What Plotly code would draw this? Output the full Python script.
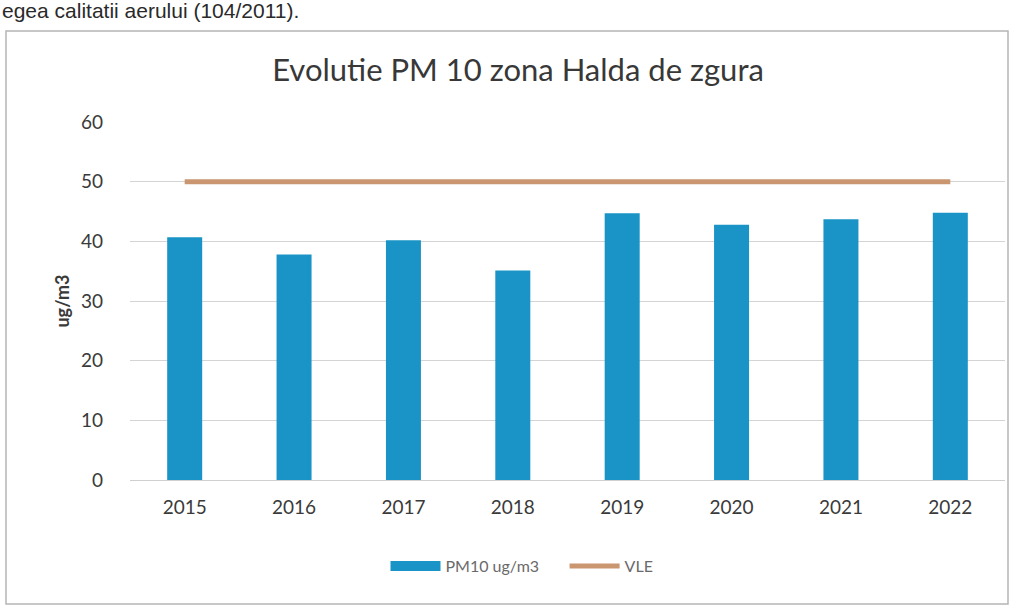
import plotly.graph_objects as go

# Data
years = ["2015", "2016", "2017", "2018", "2019", "2020", "2021", "2022"]
pm10 = [40.7, 37.8, 40.2, 35.1, 44.7, 42.8, 43.7, 44.8]
vle = [50, 50, 50, 50, 50, 50, 50, 50]
y_ticks = [0, 10, 20, 30, 40, 50, 60]

W, H = 1022, 610
ML, MR, MT, MB = 130, 17, 122, 130
PW, PH = W - ML - MR, H - MT - MB


def px_x(x):
    return (x - ML) / PW


def px_y(y):
    return (H - MB - y) / PH


BLUE = "#1A93C6"
TAN = "#C99670"
FONT = "Lato"

fig = go.Figure()
fig.add_trace(go.Bar(
    x=years, y=pm10, name="PM10 ug/m3", showlegend=False,
    marker=dict(color=BLUE, line=dict(width=0)),
))
# wide swatch for the bar series in the legend
fig.add_trace(go.Scatter(
    x=[years[0]], y=[None], name="PM10 ug/m3&nbsp;&nbsp;&nbsp;&nbsp;&nbsp;", mode="lines",
    line=dict(color=BLUE, width=10), hoverinfo="skip",
))
fig.add_trace(go.Scatter(
    x=years, y=vle, name="VLE", mode="lines",
    line=dict(color=TAN, width=5),
))

fig.update_layout(
    width=W, height=H,
    margin=dict(l=ML, r=MR, t=MT, b=MB),
    paper_bgcolor="white", plot_bgcolor="white",
    bargap=0.68,
    showlegend=True,
    legend=dict(
        orientation="h", x=px_x(522), xanchor="center",
        y=px_y(566), yanchor="middle",
        font=dict(family=FONT, size=16, color="#6a6a6a"),
        itemwidth=50, tracegroupgap=0,
    ),
    title=dict(
        text="Evolutie PM 10 zona Halda de zgura",
        x=518 / W, xanchor="center", y=1 - 70 / H, yanchor="middle",
        font=dict(family=FONT, size=31, color="#383838"),
    ),
    xaxis=dict(
        type="category", showgrid=False, zeroline=False,
        showline=True, linecolor="#cfcfcf", linewidth=1,
        ticks="", ticklabelstandoff=10,
        tickfont=dict(family=FONT, size=19, color="#3a3a3a"),
    ),
    yaxis=dict(
        range=[0, 60], tickvals=y_ticks, showgrid=True,
        gridcolor="#d4d4d4", gridwidth=1, zeroline=False, showline=False,
        ticks="", ticklabelstandoff=26,
        tickfont=dict(family=FONT, size=19, color="#3a3a3a"),
        title=dict(text="<b>ug/m3</b>", standoff=6,
                   font=dict(family=FONT, size=18, color="#3a3a3a")),
    ),
    annotations=[dict(
        text="egea calitatii aerului (104/2011).",
        xref="paper", yref="paper", x=px_x(0), y=px_y(11),
        xanchor="left", yanchor="middle", showarrow=False,
        font=dict(family="Liberation Sans", size=21, color="#2a2a2a"),
    )],
    shapes=[dict(
        type="rect", xref="paper", yref="paper",
        x0=px_x(6), x1=px_x(1008), y0=px_y(604), y1=px_y(31),
        line=dict(color="#b5b5b5", width=1.5), fillcolor="rgba(0,0,0,0)",
        layer="below",
    )],
)

fig.write_html("out.html")
